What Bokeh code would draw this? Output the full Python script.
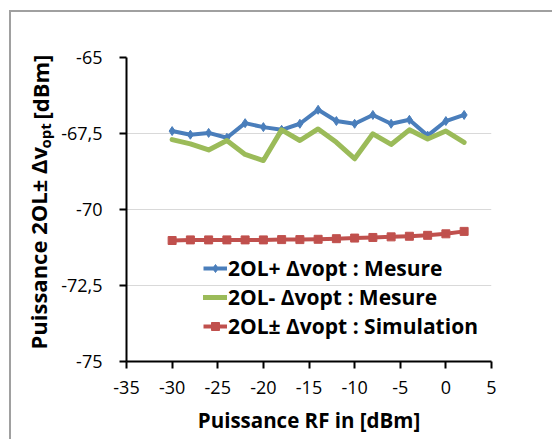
import math
from bokeh.plotting import figure
from bokeh.models import (FixedTicker, CustomJSTickFormatter, Label, Legend,
                          LegendItem, Range1d)
from bokeh.embed import file_html
from bokeh.resources import INLINE

# ---- data ----
rf_power = [-30, -28, -26, -24, -22, -20, -18, -16, -14, -12, -10, -8, -6, -4, -2, 0, 2]
mesure_plus = [-67.42, -67.54, -67.48, -67.64, -67.16, -67.29, -67.38, -67.18, -66.72,
               -67.09, -67.18, -66.89, -67.18, -67.05, -67.57, -67.09, -66.89]
mesure_minus = [-67.70, -67.84, -68.04, -67.73, -68.19, -68.39, -67.38, -67.73, -67.35,
                -67.79, -68.33, -67.51, -67.86, -67.38, -67.68, -67.42, -67.79]
simulation = [-71.02, -71.00, -71.00, -71.00, -71.00, -71.00, -70.99, -70.99, -70.98,
              -70.96, -70.94, -70.92, -70.90, -70.88, -70.85, -70.80, -70.72]

series_names = ["2OL+ \u0394vopt : Mesure", "2OL- \u0394vopt : Mesure", "2OL\u00b1 \u0394vopt : Simulation"]

x_ticks = [-35, -30, -25, -20, -15, -10, -5, 0, 5]
x_tick_labels = ["-35", "-30", "-25", "-20", "-15", "-10", "-5", "0", "5"]
y_ticks = [-75, -72.5, -70, -67.5, -65]
y_tick_labels = ["-75", "-72,5", "-70", "-67,5", "-65"]

x_title = "Puissance RF in [dBm]"
y_title_main = "Puissance 2OL\u00b1 \u0394v"
y_title_sub = "opt"
y_title_end = " [dBm]"

FONT = "Open Sans"
BLUE = "#4a7ebb"
GREEN = "#9bbb59"
RED = "#c0504d"

W, H = 552, 439
FL, FR, FT, FB = 126, 491, 57, 361   # frame edges on the canvas
p = figure(width=W, height=H, output_backend="svg", toolbar_location=None,
           x_range=Range1d(-35, 5), y_range=Range1d(-75, -65),
           min_border_left=FL, min_border_right=W - FR, min_border_top=FT, min_border_bottom=H - FB)
p.outline_line_color = None
p.background_fill_color = "white"
p.border_fill_alpha = 0
p.styles = {"box-shadow": "inset 9px 10px 0 0 white, inset 11px 12px 0 0 #a0a0a0",
            "background-color": "white"}

for ax in (p.xaxis[0], p.yaxis[0]):
    ax.axis_line_color = "black"
    ax.axis_line_width = 2
    ax.major_tick_line_color = "black"
    ax.major_tick_line_width = 2
    ax.major_tick_out = 7
    ax.major_tick_in = 0
    ax.minor_tick_line_color = None
    ax.major_label_text_font = FONT
    ax.major_label_text_font_size = "18px"
    ax.major_label_text_color = "black"

FMT = """
    for (let i = 0; i < tvals.length; i++) {
        if (Math.abs(tvals[i] - tick) < 1e-9) { return tlabels[i]; }
    }
    return String(tick);
"""
p.xaxis.ticker = FixedTicker(ticks=x_ticks)
p.yaxis.ticker = FixedTicker(ticks=y_ticks)
p.xaxis.formatter = CustomJSTickFormatter(args=dict(tvals=x_ticks, tlabels=x_tick_labels), code=FMT)
p.yaxis.formatter = CustomJSTickFormatter(args=dict(tvals=y_ticks, tlabels=y_tick_labels), code=FMT)
p.yaxis.major_label_standoff = 17
p.xaxis.major_label_standoff = 12

p.xaxis.axis_label = x_title
p.xaxis.axis_label_text_font = FONT
p.xaxis.axis_label_text_font_style = "bold"
p.xaxis.axis_label_text_font_size = "20.5px"
p.xaxis.axis_label_text_color = "black"
p.xaxis.axis_label_standoff = 9

p.xgrid.visible = False
p.ygrid.grid_line_color = "#d9d9d9"
p.ygrid.grid_line_width = 1

# series
r_blue = p.line(rf_power, mesure_plus, line_color=BLUE, line_width=4, line_join="round")
r_blue_m = p.scatter(rf_power, mesure_plus, marker="diamond", size=9, fill_color=BLUE, line_color=BLUE)
r_green = p.line(rf_power, mesure_minus, line_color=GREEN, line_width=5, line_join="round", line_cap="round")
r_red = p.line(rf_power, simulation, line_color=RED, line_width=4, line_join="round")
r_red_m = p.scatter(rf_power, simulation, marker="square", size=8, fill_color=RED, line_color=RED)

legend = Legend(items=[
    LegendItem(label=series_names[0], renderers=[r_blue, r_blue_m]),
    LegendItem(label=series_names[1], renderers=[r_green]),
    LegendItem(label=series_names[2], renderers=[r_red, r_red_m]),
], location=(77, 21))
legend.label_text_font = FONT
legend.label_text_font_style = "bold"
legend.label_text_font_size = "21px"
legend.label_text_color = "black"
legend.glyph_width = 24
legend.glyph_height = 20
legend.label_height = 29
legend.label_standoff = 1
legend.spacing = 0
legend.padding = 0
legend.margin = 0
legend.background_fill_alpha = 0
legend.border_line_alpha = 0
p.add_layout(legend)

# y-axis title pieces, placed in side panels so they are not clipped to the frame
def ylabel(x, y, text, size):
    return Label(x=x, y=y, x_units="screen", y_units="screen", text=text,
                 angle=math.pi / 2, text_font=FONT, text_font_style="bold", text_font_size=size,
                 text_align="left", text_baseline="alphabetic", text_color="black")

# main part: left panel (outside the y axis)
p.add_layout(ylabel(9, FB - 349, y_title_main, "22px"), "left")
# subscript and unit: right panels, shifted back to the left edge
p.add_layout(ylabel(44 - FR, FB - 148, y_title_sub, "15px"), "right")
p.add_layout(ylabel(40 - (FR + 20.4), FB - 119, y_title_end, "22px"), "right")

open("out.html", "w").write(file_html(p, INLINE))
